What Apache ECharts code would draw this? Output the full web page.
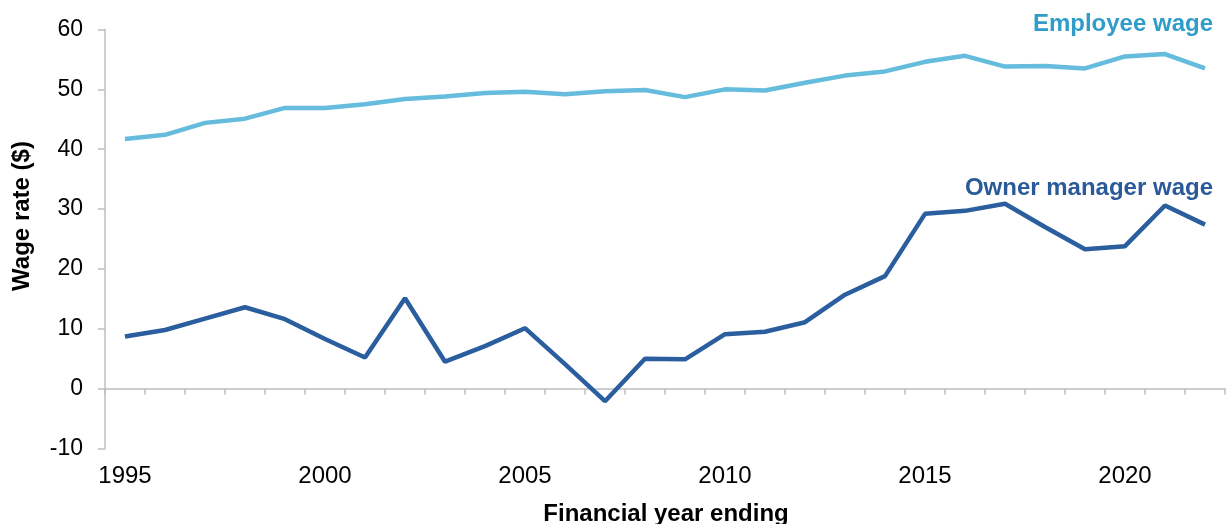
<!DOCTYPE html>
<html>
<head>
<meta charset="utf-8">
<script src="https://cdn.jsdelivr.net/npm/echarts@6/dist/echarts.min.js"></script>
<style>
html,body{margin:0;padding:0;background:#fff;}
#chart{width:1227px;height:524px;}
</style>
</head>
<body>
<div id="chart"></div>
<script>
const years = ['1995','1996','1997','1998','1999','2000','2001','2002','2003','2004','2005','2006','2007','2008','2009','2010','2011','2012','2013','2014','2015','2016','2017','2018','2019','2020','2021','2022'];
const employeeWage = [41.7, 42.4, 44.4, 45.1, 46.9, 46.9, 47.5, 48.4, 48.8, 49.4, 49.6, 49.2, 49.7, 49.9, 48.7, 50.0, 49.8, 51.1, 52.3, 53.0, 54.6, 55.6, 53.8, 53.9, 53.5, 55.5, 55.9, 53.5];
const ownerManagerWage = [8.7, 9.8, 11.7, 13.6, 11.6, 8.3, 5.2, 15.1, 4.5, 7.1, 10.1, 4.1, -2.1, 5.0, 4.9, 9.1, 9.5, 11.1, 15.7, 18.8, 29.2, 29.7, 30.9, 27.0, 23.3, 23.8, 30.6, 27.4];
const yTicks = { min: -10, max: 60, interval: 10 };
const labels = { x: 'Financial year ending', y: 'Wage rate ($)', employee: 'Employee wage', owner: 'Owner manager wage' };

const FONT = '"Liberation Sans", Arial, sans-serif';
const AXIS_GREY = '#bfbfbf';
const chart = echarts.init(document.getElementById('chart'), null, { renderer: 'canvas' });
chart.setOption({
  animation: false,
  backgroundColor: '#ffffff',
  grid: { left: 105, right: 2, top: 29.5, bottom: 75.5, containLabel: false },
  xAxis: [
    {
      type: 'category',
      data: years,
      boundaryGap: true,
      position: 'bottom',
      axisLine: { show: true, onZero: true, lineStyle: { color: AXIS_GREY, width: 1.5 } },
      axisTick: { show: true, interval: 0, length: 6, lineStyle: { color: AXIS_GREY, width: 1.5 } },
      axisLabel: { show: false },
      splitLine: { show: false }
    },
    {
      type: 'category',
      data: years,
      boundaryGap: true,
      position: 'bottom',
      axisLine: { show: false, onZero: false },
      axisTick: { show: false },
      axisLabel: { show: true, interval: 4, margin: 16, fontSize: 24, color: '#000', fontFamily: FONT, hideOverlap: false },
      splitLine: { show: false }
    }
  ],
  yAxis: {
    type: 'value',
    min: yTicks.min, max: yTicks.max, interval: yTicks.interval,
    axisLine: { show: true, lineStyle: { color: AXIS_GREY, width: 1.5 } },
    axisTick: { show: true, length: 7, lineStyle: { color: AXIS_GREY, width: 1.5 } },
    axisLabel: { margin: 22, fontSize: 23, color: '#000', fontFamily: FONT },
    splitLine: { show: false }
  },
  series: [
    { name: labels.employee, type: 'line', xAxisIndex: 0, data: employeeWage, symbol: 'none', lineStyle: { color: '#66bcdd', width: 4.5 }, itemStyle: { color: '#66bcdd' } },
    { name: labels.owner, type: 'line', xAxisIndex: 0, data: ownerManagerWage, symbol: 'none', lineStyle: { color: '#2b5e9f', width: 4.5 }, itemStyle: { color: '#2b5e9f' } }
  ],
  graphic: [
    { type: 'text', x: 22, y: 216, rotation: Math.PI / 2,
      style: { text: labels.y, font: 'bold 24px ' + FONT, fill: '#000', textAlign: 'center', textVerticalAlign: 'middle', align: 'center', verticalAlign: 'middle' } },
    { type: 'text', x: 666, y: 514,
      style: { text: labels.x, font: 'bold 24px ' + FONT, fill: '#000', textAlign: 'center', textVerticalAlign: 'middle', align: 'center', verticalAlign: 'middle' } },
    { type: 'text', x: 1213, y: 24,
      style: { text: labels.employee, font: 'bold 24px ' + FONT, fill: '#2f9cc9', textAlign: 'right', textVerticalAlign: 'middle', align: 'right', verticalAlign: 'middle' } },
    { type: 'text', x: 1213, y: 188,
      style: { text: labels.owner, font: 'bold 24px ' + FONT, fill: '#2b5a99', textAlign: 'right', textVerticalAlign: 'middle', align: 'right', verticalAlign: 'middle' } }
  ]
});
</script>
</body>
</html>
